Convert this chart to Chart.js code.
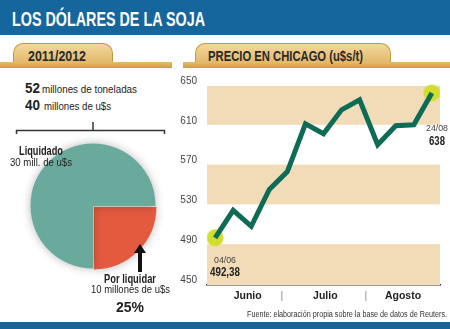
<!DOCTYPE html>
<html>
<head>
<meta charset="utf-8">
<script src="https://cdn.jsdelivr.net/npm/chart.js@4.4.0/dist/chart.umd.min.js"></script>
<style>
  body { margin: 0; background: #fff; }
  #wrap { position: relative; width: 450px; height: 329px; overflow: hidden; background: #fff;
          font-family: "Liberation Sans", Arial, sans-serif; color: #222; }
  .t { position: absolute; white-space: nowrap; line-height: 1; transform-origin: left top; }
  .b { font-weight: bold; }
  #head { position: absolute; left: 0; top: 0; width: 450px; height: 35px; background: #15669d; }
  .tab { position: absolute; top: 43px; height: 22px; border: 1px solid #c8973c; border-bottom: none;
         border-radius: 10px 10px 0 0; background: linear-gradient(#f3d89c, #dfb262); }
  .bar { position: absolute; top: 62px; height: 6px; background: linear-gradient(#e6bd6a, #cf9c40); }
  #foot { position: absolute; left: 0; top: 322px; width: 450px; height: 7px; background: #15669d; }
  #lineBox { position: absolute; left: 172px; top: 60px; width: 278px; height: 250px; }
  #pieBox { position: absolute; left: 13px; top: 126px; width: 160px; height: 160px; }
</style>
</head>
<body>
<div id="wrap">
  <div id="head"></div>
  <div class="t b fit" data-w="193" style="left:12px;top:9.5px;font-size:19.5px;color:#fff;">LOS DÓLARES DE LA SOJA</div>

  <div class="tab" style="left:13px;width:98px;"></div>
  <div class="bar" style="left:0;width:172px;"></div>
  <div class="t b fit" data-w="58" style="left:28px;top:48.5px;font-size:14.5px;color:#2a2a2a;">2011/2012</div>

  <div class="tab" style="left:195px;width:194px;"></div>
  <div class="bar" style="left:183px;width:267px;"></div>
  <div class="t b fit" data-w="155" style="left:208px;top:48.5px;font-size:14.5px;color:#2a2a2a;">PRECIO EN CHICAGO (u$s/t)</div>

  <div class="t b fit" data-w="15" style="left:25px;top:81px;font-size:14px;">52</div>
  <div class="t fit" data-w="95" style="left:42px;top:83.7px;font-size:11px;">millones de toneladas</div>
  <div class="t b fit" data-w="15" style="left:25px;top:98px;font-size:14px;">40</div>
  <div class="t fit" data-w="67" style="left:44px;top:100.7px;font-size:11px;">millones de u$s</div>

  <svg style="position:absolute;left:0;top:118px" width="180" height="20">
    <path d="M16.5 16 V12.5 H164.5 V16 M93 12.5 V4" stroke="#333" stroke-width="1.5" fill="none"/>
  </svg>

  <div id="pieBox"><canvas id="pie"></canvas></div>

  <div class="t b fit" data-w="44" style="left:19px;top:145px;font-size:12px;">Liquidado</div>
  <div class="t fit" data-w="62" style="left:10px;top:157.3px;font-size:11.5px;">30 mill. de u$s</div>

  <svg style="position:absolute;left:133px;top:244px" width="14" height="28">
    <polygon points="7,0 13,9 1,9" fill="#111"/>
    <rect x="5" y="8" width="4" height="20" fill="#111"/>
  </svg>

  <div class="t b fit" data-w="52" style="left:104px;top:273px;font-size:12px;">Por liquidar</div>
  <div class="t fit" data-w="79" style="left:91px;top:284.3px;font-size:11.5px;">10 millones de u$s</div>
  <div class="t b fit" data-w="28" style="left:116px;top:300px;font-size:14px;">25%</div>

  <div id="lineBox"><canvas id="line"></canvas></div>

  <div class="t fit" data-w="22" style="left:214px;top:255px;font-size:9.5px;color:#444;" id="d0"></div>
  <div class="t b fit" data-w="30" style="left:210px;top:266px;font-size:12px;" id="v0"></div>
  <div class="t fit" data-w="22" style="left:426px;top:123px;font-size:9.5px;color:#444;" id="d1"></div>
  <div class="t b fit" data-w="16" style="left:429px;top:135px;font-size:12px;" id="v1"></div>

  <div class="t fit" data-w="200" style="left:247px;top:309.8px;font-size:8.5px;color:#333;">Fuente: elaboración propia sobre la base de datos de Reuters.</div>
  <div id="foot"></div>
</div>

<script>
// Datos
const pieLabels = ["Por liquidar", "Liquidado"];
const pieValues = [10, 30];
const pieColors = ["#e35a3f", "#6aaa9d"];

const prices = [492.38, 520, 504, 541, 559, 607, 597, 621, 631, 586, 605, 606, 638];
const endDates = ["04/06", "24/08"];
const endValues = ["492,38", "638"];

const yTicks = [450, 490, 530, 570, 610, 650];
const monthLabels = ["Junio", "|", "Julio", "|", "Agosto"];
const monthPos = [1.8, 3.7, 6.1, 8.35, 10.4];

const FONT = '"Liberation Sans", Arial, sans-serif';

// Etiquetas de los extremos
document.getElementById("d0").textContent = endDates[0];
document.getElementById("v0").textContent = endValues[0];
document.getElementById("d1").textContent = endDates[1];
document.getElementById("v1").textContent = endValues[1];

// Texto angosto: ajustar cada etiqueta a su ancho
document.querySelectorAll(".fit").forEach(el => {
    const w = el.getBoundingClientRect().width;
    el.style.transform = "scaleX(" + (el.dataset.w / w) + ")";
});

// Sombra suave de la torta
const pieShadow = {
    id: "pieShadow",
    beforeDatasetsDraw(chart) {
        chart.ctx.save();
        chart.ctx.shadowColor = "rgba(0,0,0,0.28)";
        chart.ctx.shadowBlur = 10;
    },
    afterDatasetsDraw(chart) {
        chart.ctx.restore();
    }
};

new Chart(document.getElementById("pie"), {
    type: "pie",
    data: {
        labels: pieLabels,
        datasets: [{
            data: pieValues,
            backgroundColor: pieColors,
            borderWidth: 0,
            offset: [5, 0]
        }]
    },
    options: {
        responsive: true,
        maintainAspectRatio: false,
        animation: false,
        rotation: 90,
        layout: { padding: 15 },
        plugins: { legend: { display: false }, tooltip: { enabled: false } }
    },
    plugins: [pieShadow]
});

// Franjas de fondo
const bands = {
    id: "bands",
    beforeDatasetsDraw(chart) {
        const { ctx, chartArea, scales } = chart;
        ctx.save();
        ctx.fillStyle = "#f2dcb8";
        [[445, 486], [526, 566], [606, 645]].forEach(([a, b]) => {
            const y1 = scales.y.getPixelForValue(b);
            const y2 = scales.y.getPixelForValue(a);
            ctx.fillRect(chartArea.left, y1, chartArea.right - chartArea.left, y2 - y1);
        });
        ctx.restore();
    }
};

const idx = prices.map((p, i) => ({ x: i, y: p }));
const last = prices.length - 1;

new Chart(document.getElementById("line"), {
    type: "line",
    data: {
        datasets: [{
            data: idx,
            borderColor: "#0e6b56",
            borderWidth: 5,
            borderJoinStyle: "miter",
            tension: 0,
            pointRadius: 0,
            order: 1
        }, {
            data: idx,
            showLine: false,
            pointRadius: ctx => (ctx.dataIndex === 0 || ctx.dataIndex === last) ? 8 : 0,
            pointBackgroundColor: "#d3dd2e",
            pointBorderColor: "rgba(211,221,46,0.45)",
            pointBorderWidth: 2,
            order: 2
        }]
    },
    options: {
        responsive: true,
        maintainAspectRatio: false,
        animation: false,
        layout: { padding: { left: 0, right: 7, top: 14, bottom: 0 } },
        plugins: { legend: { display: false }, tooltip: { enabled: false } },
        scales: {
            x: {
                type: "linear",
                min: -0.45,
                max: 12.45,
                afterBuildTicks: s => { s.ticks = monthPos.map(v => ({ value: v })); },
                afterFit: s => { s.height = 25; },
                grid: { display: false, drawTicks: false },
                border: { display: true, color: "#333", width: 1.5 },
                ticks: {
                    autoSkip: false,
                    maxRotation: 0,
                    padding: 5,
                    callback: (v, i) => monthLabels[i],
                    color: ctx => monthLabels[ctx.index] === "|" ? "#888" : "#222",
                    font: ctx => ({ family: FONT, size: 10.5, weight: monthLabels[ctx.index] === "|" ? "normal" : "bold" })
                }
            },
            y: {
                min: 445,
                max: 655,
                afterBuildTicks: s => { s.ticks = yTicks.map(v => ({ value: v })); },
                afterFit: s => { s.width = 35; },
                grid: { display: false, drawTicks: false },
                border: { display: false },
                ticks: {
                    padding: 10,
                    color: "#444",
                    font: { family: FONT, size: 10 }
                }
            }
        }
    },
    plugins: [bands]
});
</script>
</body>
</html>
